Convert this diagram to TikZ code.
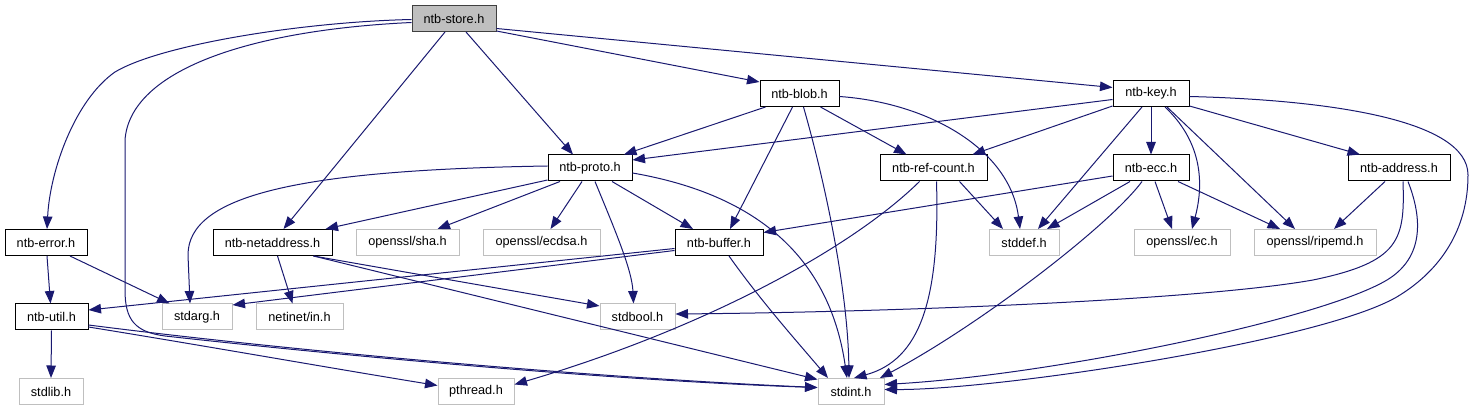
\documentclass[tikz,border=0pt]{standalone}
\usepackage{fontspec}
\setmainfont{Liberation Sans}
\usetikzlibrary{arrows.meta}
\definecolor{edgecol}{HTML}{191970}
\definecolor{sysgray}{HTML}{BFBFBF}
\definecolor{darkborder}{HTML}{404040}
\begin{document}
\begin{tikzpicture}[x=1pt,y=-1pt,
  box/.style={draw=black,line width=1pt,minimum height=26pt,inner sep=0pt,font=\fontsize{12.7}{15}\selectfont,text=black},
  sys/.style={box,draw=sysgray},
  dep/.style={draw=edgecol,line width=1pt,-{Triangle[length=12.5pt,width=9.5pt]}}]
\useasboundingbox (0,0) rectangle (1475,411);
% row 1
\node[box,fill=sysgray,draw=darkborder,minimum width=84pt] (store) at (454,18.5) {ntb-store.h};
% row 2
\node[box,minimum width=79pt] (blob) at (799.5,93.5) {ntb-blob.h};
\node[box,minimum width=76pt] (key) at (1151,93.5) {ntb-key.h};
% row 3
\node[box,minimum width=84pt] (proto) at (590,168) {ntb-proto.h};
\node[box,minimum width=107pt] (refc) at (933.5,168) {ntb-ref-count.h};
\node[box,minimum width=76pt] (ecc) at (1151,168) {ntb-ecc.h};
\node[box,minimum width=102pt] (addr) at (1399,168) {ntb-address.h};
% row 4
\node[box,minimum width=82pt] (err) at (46,242.5) {ntb-error.h};
\node[box,minimum width=119pt] (neta) at (272.5,242.5) {ntb-netaddress.h};
\node[sys,minimum width=103pt] (sha) at (407.5,242.5) {openssl/sha.h};
\node[sys,minimum width=117pt] (ecdsa) at (541.5,242.5) {openssl/ecdsa.h};
\node[box,minimum width=88pt] (buf) at (719,242.5) {ntb-buffer.h};
\node[sys,minimum width=70pt] (stddef) at (1024,242.5) {stddef.h};
\node[sys,minimum width=96pt] (ec) at (1182,242.5) {openssl/ec.h};
\node[sys,minimum width=122pt] (ripemd) at (1315,242.5) {openssl/ripemd.h};
% row 5
\node[box,minimum width=73pt] (util) at (51.5,317) {ntb-util.h};
\node[sys,minimum width=70pt] (stdarg) at (197,317) {stdarg.h};
\node[sys,minimum width=87pt] (netin) at (299.5,317) {netinet/in.h};
\node[sys,minimum width=75pt] (stdbool) at (637.5,317) {stdbool.h};
% row 6
\node[sys,minimum width=64pt] (stdlib) at (51,391.5) {stdlib.h};
\node[sys,minimum width=76pt] (pthread) at (476,391.5) {pthread.h};
\node[sys,minimum width=66pt] (stdint) at (851,391.5) {stdint.h};

% ntb-store.h
\draw[dep] ([yshift=-10pt]store.east) -- ([yshift=6pt]key.west);
\draw[dep] ([yshift=1pt]store.south east) -- ([yshift=-2pt]blob.north west);
\draw[dep] ([xshift=12pt]store.south) -- ([xshift=-17pt]proto.north);
\draw[dep] ([xshift=-9pt]store.south) -- ([xshift=11pt]neta.north);
\draw[dep] ([yshift=-1pt]store.west) .. controls (300,22) and (160,45) .. (115,72) .. controls (75,100) and (50,170) .. ([xshift=1pt]err.north);
\draw[dep] ([yshift=-4pt]store.west) .. controls (250,30) and (130,70) .. (125,140) -- (125,290) .. controls (125,320) and (135,332) .. (165,336) .. controls (400,362) and (650,382) .. ([yshift=4pt]stdint.west);
% ntb-blob.h
\draw[dep] ([xshift=-34pt]blob.south) -- ([xshift=34pt]proto.north);
\draw[dep] ([xshift=-7pt]blob.south) -- ([xshift=11pt]buf.north);
\draw[dep] ([xshift=4pt]blob.south) .. controls (830,200) and (848,300) .. ([xshift=-2pt]stdint.north);
\draw[dep] ([xshift=21pt]blob.south) -- ([xshift=-27pt]refc.north);
\draw[dep] ([yshift=-3pt]blob.east) .. controls (930,103) and (1010,150) .. ([xshift=-4pt]stddef.north);
% ntb-key.h
\draw[dep] ([yshift=-6pt]key.west) -- ([yshift=8pt]proto.east);
\draw[dep] ([yshift=1pt]key.south west) -- ([xshift=39pt]refc.north);
\draw[dep] ([xshift=-9pt]key.south) -- ([xshift=14pt]stddef.north);
\draw[dep] (key.south) -- (ecc.north);
\draw[dep] ([xshift=14pt]key.south) .. controls (1200,140) and (1205,180) .. ([xshift=10pt]ec.north);
\draw[dep] ([xshift=16pt]key.south) -- ([xshift=-20pt]ripemd.north);
\draw[dep] ([yshift=1pt]key.south east) -- ([xshift=-39pt]addr.north);
\draw[dep] ([yshift=-3pt]key.east) .. controls (1330,100) and (1468,120) .. (1468,175) .. controls (1468,230) and (1440,270) .. (1400,295) .. controls (1330,340) and (1000,390) .. ([yshift=2pt]stdint.east);
% ntb-proto.h
\draw[dep] ([yshift=2pt]proto.west) .. controls (300,170) and (188,195) .. (188,255) -- ([xshift=-7pt]stdarg.north);
\draw[dep] ([yshift=-12pt]proto.west) -- ([xshift=53pt]neta.north);
\draw[dep] ([xshift=-30pt]proto.south) -- ([xshift=30pt]sha.north);
\draw[dep] ([xshift=-8pt]proto.south) -- ([xshift=9pt]ecdsa.north);
\draw[dep] ([xshift=22pt]proto.south) -- ([xshift=-26pt]buf.north);
\draw[dep] ([xshift=5pt]proto.south) .. controls (615,230) and (632,270) .. ([xshift=-4pt]stdbool.north);
\draw[dep] ([yshift=-5pt]proto.east) .. controls (760,195) and (830,260) .. ([xshift=-4pt]stdint.north);
% ntb-ref-count.h
\draw[dep] ([xshift=-14pt]refc.south) .. controls (850,250) and (700,330) .. ([yshift=7pt]pthread.east);
\draw[dep] ([xshift=26pt]refc.south) -- ([xshift=-21pt]stddef.north);
\draw[dep] ([xshift=3pt]refc.south) .. controls (940,300) and (920,360) .. ([xshift=3pt]stdint.north);
% ntb-ecc.h
\draw[dep] ([yshift=-8pt]ecc.west) -- ([yshift=10pt]buf.east);
\draw[dep] ([xshift=-21pt]ecc.south) -- ([xshift=23pt]stddef.north);
\draw[dep] ([xshift=4pt]ecc.south) -- ([xshift=-10pt]ec.north);
\draw[dep] ([xshift=27pt]ecc.south) -- ([xshift=-35pt]ripemd.north);
\draw[dep] ([xshift=-9pt]ecc.south) .. controls (1110,225) and (980,325) .. ([xshift=29pt]stdint.north);
% ntb-address.h
\draw[dep] ([xshift=-14pt]addr.south) -- ([xshift=19pt]ripemd.north);
\draw[dep] ([xshift=4pt]addr.south) .. controls (1405,240) and (1400,262) .. (1313,280) .. controls (1200,300) and (900,312) .. ([yshift=3pt]stdbool.east);
\draw[dep] ([xshift=9pt]addr.south) .. controls (1425,225) and (1420,260) .. (1387,280) .. controls (1320,320) and (1050,375) .. ([yshift=7pt]stdint.east);
% ntb-error.h
\draw[dep] ([xshift=1pt]err.south) -- ([xshift=-1pt]util.north);
\draw[dep] ([xshift=24pt]err.south) -- ([xshift=8pt]stdarg.north west);
% ntb-netaddress.h
\draw[dep] ([xshift=5pt]neta.south) -- ([xshift=-7pt]netin.north);
\draw[dep] ([xshift=41pt]neta.south) -- ([yshift=11pt]stdbool.west);
\draw[dep] ([xshift=41pt]neta.south) -- ([yshift=12pt]stdint.west);
% ntb-buffer.h
\draw[dep] ([yshift=-6pt]buf.west) -- ([yshift=7pt]util.east);
\draw[dep] ([yshift=-8pt]buf.west) -- ([yshift=12pt]stdarg.east);
\draw[dep] ([xshift=10pt]buf.south) .. controls (760,300) and (800,345) .. ([xshift=-23pt]stdint.north);
% ntb-util.h
\draw[dep] (util.south) -- (stdlib.north);
\draw[dep] ([yshift=-10pt]util.east) .. controls (200,345) and (330,368) .. ([yshift=6pt]pthread.west);
\draw[dep] ([yshift=-8pt]util.east) .. controls (300,352) and (600,378) .. ([yshift=4pt]stdint.west);
\end{tikzpicture}
\end{document}
